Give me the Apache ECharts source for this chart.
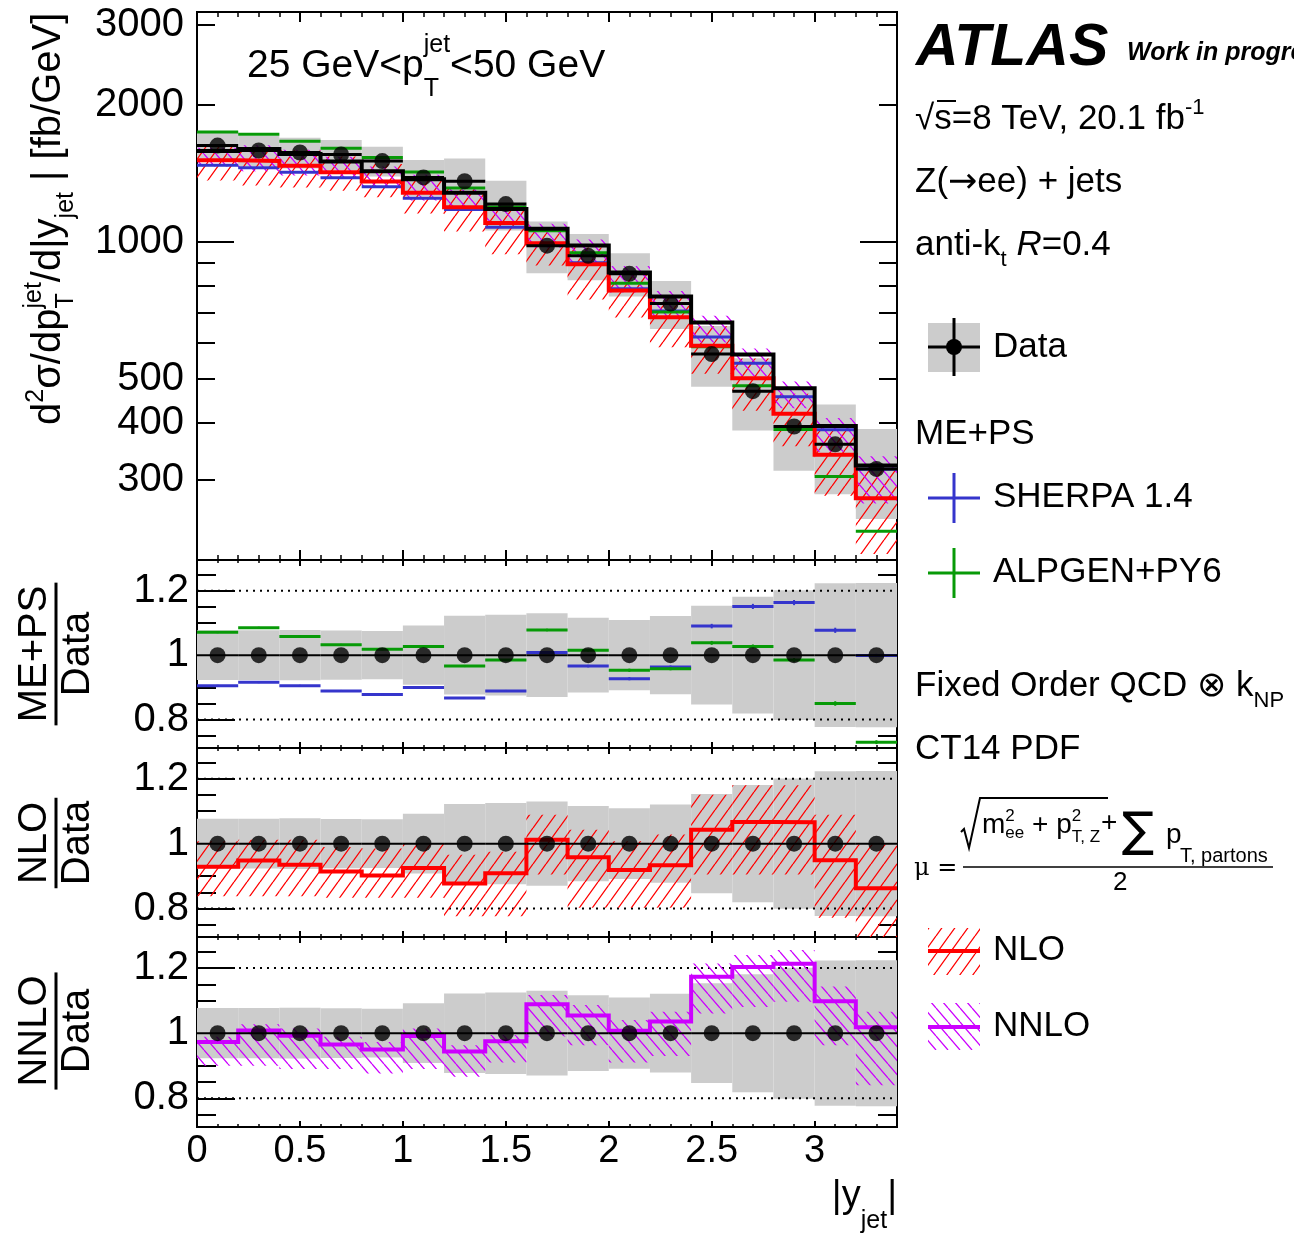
<!DOCTYPE html>
<html><head><meta charset="utf-8">
<script src="https://cdn.jsdelivr.net/npm/echarts@6/dist/echarts.min.js"></script>
<style>html,body{margin:0;padding:0;background:#fff;overflow:hidden}#c{width:1294px;height:1240px}</style>
</head><body><div id="c"></div>
<script>
// ---------------- data ----------------
const binEdges = [0,0.2,0.4,0.6,0.8,1.0,1.2,1.4,1.6,1.8,2.0,2.2,2.4,2.6,2.8,3.0,3.2,3.4];
const dataXsec = [1628,1588,1572,1556,1505,1386,1359,1211,981,932,851,732,567,470,393,359,317];
const dataRelErr = [0.077,0.077,0.078,0.076,0.075,0.092,0.122,0.125,0.130,0.116,0.109,0.121,0.153,0.181,0.201,0.223,0.224];
const sherpaRatio = [0.905,0.916,0.905,0.889,0.878,0.900,0.867,0.889,1.008,0.966,0.927,0.963,1.090,1.151,1.163,1.077,0.999];
const sherpaStat  = [0.003,0.003,0.003,0.003,0.003,0.003,0.003,0.003,0.004,0.004,0.005,0.005,0.007,0.008,0.008,0.008,0.005];
const alpgenRatio = [1.071,1.085,1.058,1.032,1.018,1.027,0.966,0.985,1.078,1.015,0.953,0.958,1.038,1.027,0.985,0.850,0.730];
const alpgenStat  = [0.003,0.003,0.003,0.003,0.003,0.003,0.003,0.003,0.004,0.004,0.005,0.005,0.006,0.006,0.006,0.007,0.006];
const nloRatio  = [0.929,0.948,0.935,0.914,0.902,0.925,0.877,0.909,1.012,0.958,0.919,0.933,1.043,1.067,1.066,0.949,0.862];
const nloBandHi = [1.007,1.012,1.012,0.990,0.985,1.000,0.966,0.975,1.089,1.043,1.007,1.028,1.151,1.180,1.180,1.089,0.997];
const nloBandLo = [0.838,0.838,0.838,0.833,0.833,0.833,0.776,0.776,0.905,0.802,0.802,0.802,0.905,0.905,0.905,0.771,0.650];
const nnloRatio  = [0.973,1.008,0.992,0.965,0.950,0.991,0.944,0.975,1.089,1.054,1.007,1.036,1.173,1.203,1.213,1.098,1.018];
const nnloBandHi = [0.989,1.027,1.014,0.989,0.973,1.014,0.963,0.994,1.117,1.086,1.040,1.066,1.214,1.240,1.255,1.143,1.066];
const nnloBandLo = [0.900,0.900,0.890,0.890,0.876,0.890,0.866,0.910,0.990,0.963,0.910,0.930,1.060,1.080,1.096,0.963,0.840];
const xTickLabels = [0,0.5,1,1.5,2,2.5,3];
const xMinorTicks = [0.1,0.2,0.3,0.4,0.6,0.7,0.8,0.9,1.1,1.2,1.3,1.4,1.6,1.7,1.8,1.9,2.1,2.2,2.3,2.4,2.6,2.7,2.8,2.9,3.1,3.2,3.3];
const yTickLabelsTop = [300,400,500,1000,2000,3000];
const yMajorTop = [1000];
const yMinorTop = [200,300,400,500,600,700,800,900,2000,3000];
const ratioTickLabels = [0.8,1,1.2];
const ratioMinor = [0.75,0.85,0.9,0.95,1.05,1.1,1.15,1.25];
const ratioRefLines = [0.8,1.2];

// ---------------- styling ----------------
const FONT = '"Liberation Sans", Arial, Helvetica, sans-serif';
const GRAY = '#cccccc', BLUE = '#3535cc', GREEN = '#079a07', RED = '#ff0000', VIOLET = '#cc00ff';
const grids = [
  {left:197, top:12,  width:700, height:548},
  {left:197, top:560, width:700, height:188},
  {left:197, top:748, width:700, height:189},
  {left:197, top:937, width:700, height:190}
];
const RMIN = 0.712, RMAX = 1.295;
const NOLINE = {show:false, onZero:false};

function hatch(color, w, h, dir, lw) {
  const c = document.createElement('canvas'); c.width = w; c.height = h;
  const g = c.getContext('2d'); g.strokeStyle = color; g.lineWidth = lw;
  g.beginPath();
  for (let k = -1; k <= 1; k++) {
    if (dir > 0) { g.moveTo(k*w, h); g.lineTo(k*w + w, 0); }
    else { g.moveTo(k*w, 0); g.lineTo(k*w + w, h); }
  }
  g.stroke();
  return {image: c, repeat: 'repeat'};
}
const RED_HATCH = hatch(RED, 13, 18, 1, 1.3);
const VIO_HATCH = hatch(VIOLET, 12, 14, -1, 1.3);

// ---------------- axes ----------------
const xAxis = [], yAxis = [];
grids.forEach((g, gi) => {
  const base = {gridIndex: gi, type:'value', min:0, max:3.4, axisLine:NOLINE, splitLine:{show:false}, axisLabel:{show:false}};
  const lenMaj = gi === 0 ? 10 : 6, lenMin = gi === 0 ? 5 : 3;
  ['bottom','top'].forEach(pos => {
    xAxis.push(Object.assign({}, base, {position: pos,
      axisTick:{show:true, inside:true, length:lenMaj, lineStyle:{color:'#000', width:2}, customValues:xTickLabels},
      axisLabel: (pos === 'bottom' && gi === 3) ? {show:true, customValues:xTickLabels, fontSize:38, color:'#000', fontFamily:FONT, margin:6, formatter: v => String(v)} : {show:false}
    }));
    xAxis.push(Object.assign({}, base, {position: pos,
      axisTick:{show:true, inside:true, length:lenMin, lineStyle:{color:'#000', width:1.5}, customValues:xMinorTicks}}));
  });
});
const yIdx = [];
yIdx[0] = yAxis.length;
yAxis.push({gridIndex:0, type:'log', logBase:10, min:200, max:3200, position:'left', axisLine:NOLINE, axisTick:{show:false}, axisLabel:{show:false}, splitLine:{show:false}});
const L0 = Math.log10(200), L1 = Math.log10(3200);
['left','right'].forEach(pos => {
  yAxis.push({gridIndex:0, type:'value', min:L0, max:L1, position:pos, axisLine:NOLINE, splitLine:{show:false},
    axisTick:{show:true, inside:true, length:37, lineStyle:{color:'#000', width:2}, customValues:yMajorTop.map(Math.log10)},
    axisLabel: pos === 'left' ? {show:true, customValues:yTickLabelsTop.map(Math.log10), formatter: v => String(Math.round(Math.pow(10, v))), fontSize:40, color:'#000', fontFamily:FONT, margin:13} : {show:false}});
  yAxis.push({gridIndex:0, type:'value', min:L0, max:L1, position:pos, axisLine:NOLINE, splitLine:{show:false}, axisLabel:{show:false},
    axisTick:{show:true, inside:true, length:18, lineStyle:{color:'#000', width:2}, customValues:yMinorTop.map(Math.log10)}});
});
for (let gi = 1; gi <= 3; gi++) {
  yIdx[gi] = yAxis.length;
  ['left','right'].forEach(pos => {
    yAxis.push({gridIndex:gi, type:'value', min:RMIN, max:RMAX, position:pos, axisLine:NOLINE, splitLine:{show:false},
      axisTick:{show:true, inside:true, length:38, lineStyle:{color:'#000', width:2}, customValues:ratioTickLabels},
      axisLabel: pos === 'left' ? {show:true, customValues:ratioTickLabels, fontSize:40, color:'#000', fontFamily:FONT, margin:8, formatter: v => String(v)} : {show:false}});
    yAxis.push({gridIndex:gi, type:'value', min:RMIN, max:RMAX, position:pos, axisLine:NOLINE, splitLine:{show:false}, axisLabel:{show:false},
      axisTick:{show:true, inside:true, length:19, lineStyle:{color:'#000', width:2}, customValues:ratioMinor}});
  });
}

// ---------------- series helpers ----------------
const series = [];
const centers = dataXsec.map((_, i) => (binEdges[i] + binEdges[i+1]) / 2);

function rectSeries(gi, rows, fill, z) {
  series.push({type:'custom', xAxisIndex: gi*4, yAxisIndex: yIdx[gi], z, silent:true, clip:true, animation:false,
    data: rows, encode:{x:[0,1], y:[2,3]},
    renderItem(params, api) {
      const a = api.coord([api.value(0), api.value(3)]);
      const b = api.coord([api.value(1), api.value(2)]);
      return {type:'rect', shape:{x:a[0], y:a[1], width:b[0]-a[0], height:b[1]-a[1]}, style:{fill: fill}};
    }});
}
function segSeries(gi, rows, color, width, z, dash) {
  series.push({type:'custom', xAxisIndex: gi*4, yAxisIndex: yIdx[gi], z, silent:true, clip:true, animation:false,
    data: rows, encode:{x:[0,1], y:2},
    renderItem(params, api) {
      const a = api.coord([api.value(0), api.value(2)]);
      const b = api.coord([api.value(1), api.value(2)]);
      const ch = [{type:'line', shape:{x1:a[0], y1:a[1], x2:b[0], y2:b[1]}, style:{stroke:color, lineWidth:width, lineDash: dash || null}}];
      const lo = api.value(3), hi = api.value(4);
      if (lo != null && !isNaN(lo) && hi != null && !isNaN(hi)) {
        const xc = (api.value(0) + api.value(1)) / 2;
        const p = api.coord([xc, lo]), q = api.coord([xc, hi]);
        ch.push({type:'line', shape:{x1:p[0], y1:p[1], x2:q[0], y2:q[1]}, style:{stroke:color, lineWidth:2}});
      }
      return {type:'group', children: ch};
    }});
}
function stepSeries(gi, vals, color, width, z) {
  const pts = vals.map((v, i) => [binEdges[i], v]);
  pts.push([binEdges[vals.length], vals[vals.length - 1]]);
  series.push({type:'line', xAxisIndex: gi*4, yAxisIndex: yIdx[gi], data: pts, step:'end', symbol:'none', z, silent:true, animation:false,
    lineStyle:{color, width, join:'miter', cap:'butt'}});
}
function dots(gi, vals, z) {
  series.push({type:'scatter', xAxisIndex: gi*4, yAxisIndex: yIdx[gi], data: centers.map((c, i) => [c, vals[i]]), symbol:'circle', symbolSize:16,
    itemStyle:{color:'#000'}, z, silent:true, animation:false});
}
const bins = (f) => dataXsec.map((d, i) => f(d, i));

// ---- top panel ----
rectSeries(0, bins((d,i) => [binEdges[i], binEdges[i+1], d*(1-dataRelErr[i]), d*(1+dataRelErr[i])]), GRAY, 1);
rectSeries(0, bins((d,i) => [binEdges[i], binEdges[i+1], d*nloBandLo[i], d*nloBandHi[i]]), RED_HATCH, 2);
rectSeries(0, bins((d,i) => [binEdges[i], binEdges[i+1], d*nnloBandLo[i], d*nnloBandHi[i]]), VIO_HATCH, 2);
segSeries(0, bins((d,i) => [binEdges[i], binEdges[i+1], d*sherpaRatio[i]]), BLUE, 3, 3);
segSeries(0, bins((d,i) => [binEdges[i], binEdges[i+1], d*alpgenRatio[i]]), GREEN, 3, 3);
stepSeries(0, bins((d,i) => d*nloRatio[i]), RED, 4, 4);
stepSeries(0, bins((d,i) => d*nnloRatio[i]), '#000', 4, 4);
segSeries(0, bins((d,i) => [binEdges[i], binEdges[i+1], d]), '#000', 3, 5);
dots(0, dataXsec, 6);

// ---- ratio panels ----
for (let gi = 1; gi <= 3; gi++) {
  rectSeries(gi, bins((d,i) => [binEdges[i], binEdges[i+1], 1-dataRelErr[i], 1+dataRelErr[i]]), GRAY, 1);
  segSeries(gi, ratioRefLines.map(v => [0, 3.4, v]), '#000', 2, 2, [2, 5]);
}
segSeries(1, bins((d,i) => [binEdges[i], binEdges[i+1], sherpaRatio[i], sherpaRatio[i]-sherpaStat[i], sherpaRatio[i]+sherpaStat[i]]), BLUE, 3, 3);
segSeries(1, bins((d,i) => [binEdges[i], binEdges[i+1], alpgenRatio[i], alpgenRatio[i]-alpgenStat[i], alpgenRatio[i]+alpgenStat[i]]), GREEN, 3, 3);
rectSeries(2, bins((d,i) => [binEdges[i], binEdges[i+1], nloBandLo[i], nloBandHi[i]]), RED_HATCH, 2);
stepSeries(2, nloRatio, RED, 4, 4);
rectSeries(3, bins((d,i) => [binEdges[i], binEdges[i+1], nnloBandLo[i], nnloBandHi[i]]), VIO_HATCH, 2);
stepSeries(3, nnloRatio, VIOLET, 4, 4);
for (let gi = 1; gi <= 3; gi++) {
  segSeries(gi, bins((d,i) => [binEdges[i], binEdges[i+1], 1]), '#000', 2, 5);
  dots(gi, bins(() => 1), 6);
}

// ---------------- text helpers ----------------
const mc = document.createElement('canvas').getContext('2d');
function fontStr(s, o) { return `${o.st || 'normal'} ${o.fw || 'normal'} ${s}px ${o.ff || FONT}`; }
function tw(t, s, o) { mc.font = fontStr(s, o || {}); return mc.measureText(t).width; }
function mtext(x, y, parts, rot, align) {
  let cx = 0; const ch = [];
  parts.forEach(p => {
    const t = p[0], s = p[1], dy = p[2] || 0, o = p[3] || {};
    if (o.dx) cx += o.dx;
    ch.push({type:'text', x: cx, y: dy - 0.35*s, style:{text:t, font: fontStr(s, o), fill: o.c || '#000', align:'left', verticalAlign:'middle'}});
    if (!o.noadv) cx += tw(t, s, o);
  });
  if (align === 'center') ch.forEach(c => c.x -= cx/2);
  if (align === 'right') ch.forEach(c => c.x -= cx);
  return {type:'group', x, y, rotation: rot || 0, children: ch, z: 100};
}
function line(x1, y1, x2, y2, color, w) {
  return {type:'line', shape:{x1, y1, x2, y2}, style:{stroke: color, lineWidth: w}, z: 100};
}
function fracTitle(cx, cy, num, den, s) {
  const wn = tw(num, s, {}), wd = tw(den, s, {});
  const w = Math.max(wn, wd) + 6;
  return {type:'group', x: cx, y: cy, rotation: Math.PI/2, z: 100, children: [
    {type:'text', x: -wn/2, y: -7 - 0.35*s, style:{text:num, font:fontStr(s,{}), fill:'#000', align:'left', verticalAlign:'middle'}},
    {type:'line', shape:{x1:-w/2, y1:0, x2:w/2, y2:0}, style:{stroke:'#000', lineWidth:3}},
    {type:'text', x: -wd/2, y: 7 + 0.716*s - 0.35*s, style:{text:den, font:fontStr(s,{}), fill:'#000', align:'left', verticalAlign:'middle'}}
  ]};
}

const S = 35;
const DJ = '"DejaVu Sans", ' + FONT;
const graphic = [
  mtext(247, 80, [['25 GeV<p', 39], ['T', 25, 18, {noadv:true}], ['jet', 25, -26], ['<50 GeV', 39]]),
  mtext(63, 425, [['d', 40], ['2', 25, -18], ['σ/dp', 40], ['T', 25, 12, {noadv:true}], ['jet', 25, -20], ['/d|y', 40], ['jet', 25, 12], [' | [fb/GeV]', 40]], Math.PI/2),
  fracTitle(56, 654, 'ME+PS', 'Data', 40),
  fracTitle(56, 843, 'NLO', 'Data', 40),
  fracTitle(56, 1031, 'NNLO', 'Data', 40),
  mtext(897, 1210, [['|y', 38], ['jet', 25, 20], ['|', 38]], 0, 'right'),
  mtext(916, 69, [['ATLAS', 59, 0, {st:'italic', fw:'bold'}]]),
  mtext(1127, 62, [['Work in progress', 25, 0, {st:'italic', fw:'bold'}]]),
  mtext(915, 132, [['√', S], ['s=8 TeV, 20.1 fb', S], ['-1', 22, -16]]),
  line(937, 101, 956, 101, '#000', 2),
  mtext(915, 195, [['Z(', S], ['→', S, 0, {ff:DJ}], ['ee) + jets', S]]),
  mtext(915, 258, [['anti-k', S], ['t', 22, 10], [' ', S], ['R', S, 0, {st:'italic'}], ['=0.4', S]]),
  {type:'rect', shape:{x:928, y:323, width:52, height:49}, style:{fill:GRAY}, z:100},
  line(928, 347, 980, 347, '#000', 3),
  line(954, 318, 954, 376, '#000', 3),
  {type:'circle', shape:{cx:954, cy:347, r:8}, style:{fill:'#000'}, z:101},
  mtext(993, 360, [['Data', S]]),
  mtext(915, 447, [['ME+PS', S]]),
  line(928, 498, 980, 498, BLUE, 3), line(954, 473, 954, 523, BLUE, 3),
  mtext(993, 510, [['SHERPA 1.4', S]]),
  line(928, 573, 980, 573, GREEN, 3), line(954, 548, 954, 598, GREEN, 3),
  mtext(993, 585, [['ALPGEN+PY6', S]]),
  mtext(915, 699, [['Fixed Order QCD ', S], ['⊗', S, 0, {ff:DJ}], [' k', S], ['NP', 22, 10]]),
  mtext(915, 762, [['CT14 PDF', S]]),
  mtext(914, 877, [['μ =', 24, 0, {ff:'"DejaVu Serif", serif'}]]),
  line(963, 867, 1273, 867, '#000', 1.5),
  {type:'polyline', shape:{points:[[961,832],[964,829],[969,848],[980,798],[1108,798]]}, style:{stroke:'#000', lineWidth:2, fill:null}, z:100},
  mtext(982, 835, [['m', 28], ['2', 17, -13, {noadv:true}], ['ee', 17, 4], [' + p', 28], ['2', 17, -13, {noadv:true}], ['T, Z', 17, 8]]),
  mtext(1101, 833, [['+', 28]]),
  mtext(1122, 850, [['∑', 48, 0, {ff:DJ}]]),
  mtext(1166, 845, [['p', 28]]),
  mtext(1180, 863, [['T, partons', 20]]),
  mtext(1113, 892, [['2', 26]]),
  {type:'rect', shape:{x:928, y:928, width:52, height:47}, style:{fill:RED_HATCH}, z:100},
  line(928, 951, 980, 951, RED, 4),
  mtext(993, 963, [['NLO', S]]),
  {type:'rect', shape:{x:928, y:1003, width:52, height:47}, style:{fill:VIO_HATCH}, z:100},
  line(928, 1027, 980, 1027, VIOLET, 4),
  mtext(993, 1039, [['NNLO', S]])
];

const chart = echarts.init(document.getElementById('c'), null, {renderer:'canvas', width:1294, height:1240});
chart.setOption({
  animation:false,
  backgroundColor:'#ffffff',
  grid: grids.map(g => Object.assign({show:true, borderColor:'#000', borderWidth:2, backgroundColor:'transparent', containLabel:false}, g)),
  xAxis, yAxis, series, graphic
});
</script>
</body></html>
